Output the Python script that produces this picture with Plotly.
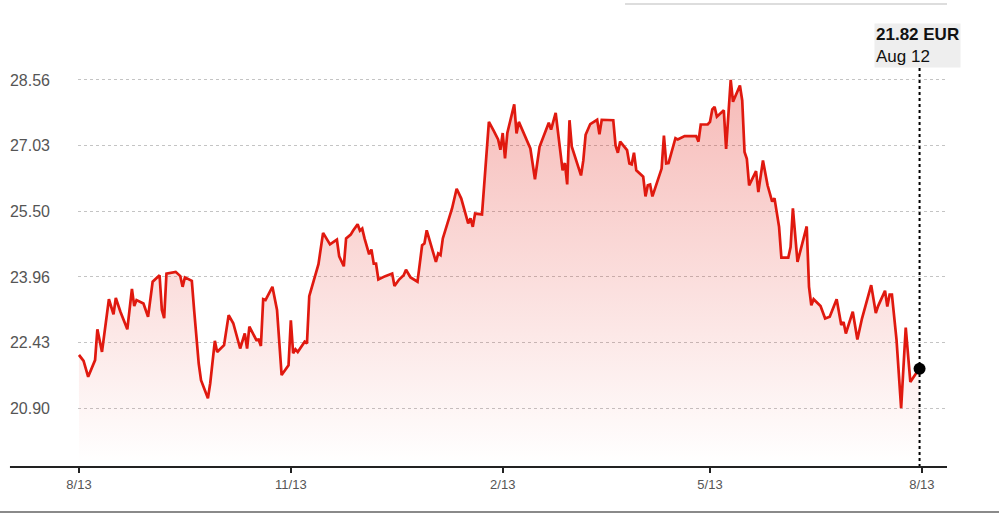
import plotly.graph_objects as go

# price history (EUR)
dates = [
    "2023-08-13", "2023-08-15", "2023-08-17", "2023-08-20", "2023-08-21", "2023-08-23",
    "2023-08-26", "2023-08-28", "2023-08-29", "2023-08-31", "2023-09-03", "2023-09-05",
    "2023-09-06", "2023-09-07", "2023-09-10", "2023-09-12", "2023-09-14", "2023-09-17",
    "2023-09-18", "2023-09-19", "2023-09-20", "2023-09-24", "2023-09-26", "2023-09-27",
    "2023-09-28", "2023-10-01", "2023-10-02", "2023-10-04", "2023-10-05", "2023-10-08",
    "2023-10-09", "2023-10-11", "2023-10-12", "2023-10-15", "2023-10-17", "2023-10-19",
    "2023-10-22", "2023-10-24", "2023-10-25", "2023-10-26", "2023-10-29", "2023-10-30",
    "2023-10-31", "2023-11-01", "2023-11-02", "2023-11-05", "2023-11-07", "2023-11-09",
    "2023-11-12", "2023-11-13", "2023-11-14", "2023-11-15", "2023-11-16", "2023-11-19",
    "2023-11-20", "2023-11-21", "2023-11-25", "2023-11-27", "2023-11-30", "2023-12-03",
    "2023-12-04", "2023-12-06", "2023-12-07", "2023-12-09", "2023-12-10", "2023-12-12",
    "2023-12-13", "2023-12-14", "2023-12-15", "2023-12-17", "2023-12-18", "2023-12-19",
    "2023-12-20", "2023-12-21", "2023-12-24", "2023-12-27", "2023-12-28", "2023-12-30",
    "2024-01-01", "2024-01-02", "2024-01-04", "2024-01-07", "2024-01-09", "2024-01-10",
    "2024-01-11", "2024-01-15", "2024-01-16", "2024-01-17", "2024-01-18", "2024-01-22",
    "2024-01-24", "2024-01-26", "2024-01-29", "2024-01-30", "2024-01-31", "2024-02-01",
    "2024-02-04", "2024-02-07", "2024-02-09", "2024-02-11", "2024-02-12", "2024-02-13",
    "2024-02-14", "2024-02-15", "2024-02-18", "2024-02-19", "2024-02-20", "2024-02-23",
    "2024-02-25", "2024-02-27", "2024-02-29", "2024-03-04", "2024-03-05", "2024-03-07",
    "2024-03-10", "2024-03-11", "2024-03-12", "2024-03-13", "2024-03-14", "2024-03-18",
    "2024-03-19", "2024-03-20", "2024-03-22", "2024-03-25", "2024-03-26", "2024-03-27",
    "2024-04-01", "2024-04-02", "2024-04-03", "2024-04-04", "2024-04-07", "2024-04-08",
    "2024-04-09", "2024-04-10", "2024-04-11", "2024-04-14", "2024-04-15", "2024-04-16",
    "2024-04-17", "2024-04-18", "2024-04-22", "2024-04-23", "2024-04-24", "2024-04-25",
    "2024-04-28", "2024-04-29", "2024-05-02", "2024-05-07", "2024-05-08", "2024-05-09",
    "2024-05-12", "2024-05-13", "2024-05-14", "2024-05-15", "2024-05-16", "2024-05-19",
    "2024-05-20", "2024-05-22", "2024-05-23", "2024-05-26", "2024-05-27", "2024-05-28",
    "2024-05-29", "2024-05-30", "2024-06-02", "2024-06-03", "2024-06-05", "2024-06-07",
    "2024-06-09", "2024-06-10", "2024-06-12", "2024-06-13", "2024-06-16", "2024-06-17",
    "2024-06-18", "2024-06-20", "2024-06-24", "2024-06-25", "2024-06-26", "2024-06-27",
    "2024-06-30", "2024-07-02", "2024-07-04", "2024-07-07", "2024-07-09", "2024-07-10",
    "2024-07-11", "2024-07-14", "2024-07-16", "2024-07-18", "2024-07-22", "2024-07-24",
    "2024-07-25", "2024-07-28", "2024-07-29", "2024-07-30", "2024-07-31", "2024-08-02",
    "2024-08-04", "2024-08-06", "2024-08-08", "2024-08-10", "2024-08-12",
]
prices = [
    22.14, 22.00, 21.63, 22.02, 22.74, 22.21,
    23.44, 23.09, 23.47, 23.15, 22.74, 23.68,
    23.28, 23.42, 23.34, 23.03, 23.85, 24.00,
    23.19, 23.00, 24.04, 24.08, 23.98, 23.73,
    23.95, 23.87, 23.19, 21.94, 21.55, 21.13,
    21.48, 22.47, 22.21, 22.37, 23.07, 22.88,
    22.29, 22.64, 22.29, 22.80, 22.49, 22.50,
    22.35, 23.44, 23.42, 23.73, 23.19, 21.67,
    21.90, 22.95, 22.18, 22.27, 22.21, 22.45,
    22.41, 23.51, 24.26, 24.99, 24.72, 24.83,
    24.44, 24.21, 24.86, 24.95, 25.04, 25.19,
    25.04, 25.09, 24.86, 24.49, 24.60, 24.27,
    24.27, 23.90, 23.98, 24.04, 23.75, 23.90,
    24.00, 24.13, 23.95, 23.85, 24.70, 24.74,
    25.05, 24.31, 24.51, 24.47, 24.86, 25.56,
    26.02, 25.79, 25.21, 25.33, 25.13, 25.44,
    25.42, 27.58, 27.38, 27.17, 26.93, 27.32,
    26.73, 27.32, 27.99, 27.31, 27.58, 27.20,
    26.96, 26.24, 27.00, 27.56, 27.40, 27.79,
    26.45, 26.62, 26.12, 27.62, 27.00, 26.33,
    26.68, 27.28, 27.53, 27.63, 27.29, 27.63,
    27.62, 27.03, 26.86, 27.12, 26.92, 26.61,
    26.59, 26.86, 26.45, 26.30, 25.84, 26.10,
    26.12, 25.84, 26.49, 27.26, 26.61, 26.62,
    27.20, 27.17, 27.25, 27.25, 27.12, 27.52,
    27.52, 27.58, 27.87, 27.93, 27.70, 27.85,
    26.95, 28.56, 28.05, 28.43, 28.08, 26.88,
    26.72, 26.10, 26.43, 25.94, 26.68, 26.10,
    25.72, 25.80, 25.13, 24.41, 24.41, 24.66,
    25.56, 24.31, 25.14, 23.73, 23.30, 23.44,
    23.28, 22.99, 23.03, 23.44, 22.84, 22.91,
    22.64, 23.15, 22.50, 22.99, 23.77, 23.12,
    23.28, 23.64, 23.27, 23.55, 23.55, 22.49,
    20.90, 22.78, 21.51, 21.67, 21.82,
]

y_ticks = [20.90, 22.43, 23.96, 25.50, 27.03, 28.56]
x_ticks = ["2023-08-13", "2023-11-13", "2024-02-13", "2024-05-13", "2024-08-13"]
x_tick_text = ["8/13", "11/13", "2/13", "5/13", "8/13"]

last_label = "21.82 EUR"
last_date_text = "Aug 12"

line_red = "#e0190f"

fig = go.Figure()

fig.add_trace(go.Scatter(
    x=dates, y=prices, mode="lines",
    line=dict(color=line_red, width=2.7),
    fill="tozeroy",
    fillgradient=dict(
        type="vertical", start=19.6, stop=28.56,
        colorscale=[[0, "rgba(226,26,16,0.0)"], [1, "rgba(226,26,16,0.30)"]],
    ),
    hoverinfo="skip", showlegend=False,
))

# marker on the last price
fig.add_trace(go.Scatter(
    x=[dates[-1]], y=[prices[-1]], mode="markers",
    marker=dict(color="black", size=12),
    hoverinfo="skip", showlegend=False,
))

# dotted crosshair at the last point
fig.add_shape(type="line", xref="x", yref="paper",
              x0=dates[-1], x1=dates[-1], y0=0, y1=0.8926,
              line=dict(color="black", width=2, dash="dot"))

# x axis baseline (runs past the plot on the left)
fig.add_shape(type="line", xref="paper", yref="paper",
              x0=-0.0783, x1=1.0, y0=0, y1=0,
              line=dict(color="#222222", width=2))

# thin grey rule at the very top and the frame line at the bottom
fig.add_shape(type="line", xref="paper", yref="paper",
              x0=0.6295, x1=1.0, y0=1.036, y1=1.036,
              line=dict(color="#dddddd", width=2))
fig.add_shape(type="line", xref="paper", yref="paper",
              x0=-0.1, x1=1.07, y0=-0.1007, y1=-0.1007,
              line=dict(color="#8a8a8a", width=2))

fig.add_annotation(
    xref="x", yref="paper", x=dates[-1], y=0.8926,
    xanchor="left", yanchor="bottom", xshift=-46,
    text=f"<b>{last_label}</b><br>{last_date_text}",
    showarrow=False, align="left",
    font=dict(family="Liberation Sans, Arial", size=17, color="#111111"),
    bgcolor="#eeeeee", borderpad=1,
)

fig.update_layout(
    width=999, height=517,
    margin=dict(l=78, r=52, t=20, b=50, autoexpand=False),
    paper_bgcolor="white", plot_bgcolor="white",
    font=dict(family="Liberation Sans, Arial", color="#555555"),
    xaxis=dict(
        type="date",
        range=["2023-08-12 14:00", "2024-08-23 22:00"],
        tickvals=x_ticks, ticktext=x_tick_text,
        ticks="outside", ticklen=5, tickwidth=1.5, tickcolor="#222222",
        showgrid=False, zeroline=False, showline=False, automargin=False,
        tickfont=dict(family="Liberation Sans, Arial", size=13, color="#555555"),
    ),
    yaxis=dict(
        range=[19.524, 29.959],
        tickvals=y_ticks, ticktext=[f"{v:.2f}" for v in y_ticks],
        showgrid=True, gridcolor="#c4c4c4", griddash="3px,3px", gridwidth=1,
        zeroline=False, showline=False, ticks="", automargin=False,
        ticklabelstandoff=27,
        tickfont=dict(size=16, color="#555555"),
    ),
)

# drop the browser's default 8px body margin so the figure sits at the page corner
fig.write_html("out.html", config={"displayModeBar": False},
               post_script="document.body.style.margin = '0';")
